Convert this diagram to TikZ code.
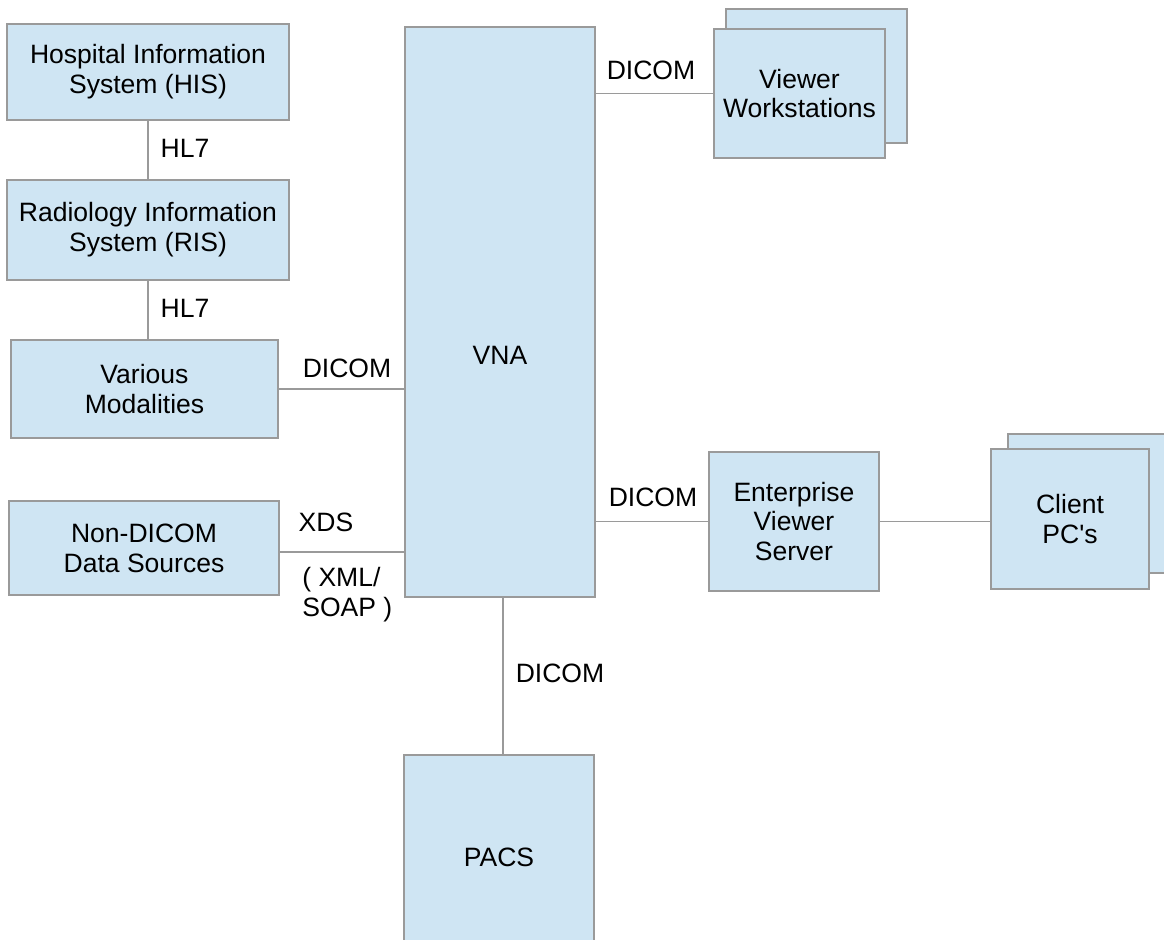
\documentclass[tikz,border=0pt]{standalone}
\usepackage{fontspec}
\setmainfont{Liberation Sans}
\definecolor{bleuclair}{HTML}{CFE5F3}
\definecolor{grisbord}{HTML}{9A9A9A}
\begin{document}
\begin{tikzpicture}
		\tikzstyle{boite}=[draw=grisbord, line width=0.9pt, fill=bleuclair, inner sep=0pt, align=center, font=\fontsize{15.1pt}{17pt}\selectfont]
		\tikzstyle{etiquette}=[inner sep=0pt, font=\fontsize{15.1pt}{17pt}\selectfont]
		\tikzstyle{lien}=[draw=grisbord, line width=0.8pt]
		\useasboundingbox (0,0) rectangle (23.28,-18.80);
		\clip (0,0) rectangle (23.28,-18.80);
		% colonne gauche
		\node[boite, minimum width=5.64cm, minimum height=1.92cm] (his) at (2.96,-1.44) {Hospital Information\\System (HIS)};
		\node[boite, minimum width=5.64cm, minimum height=2.00cm] (ris) at (2.96,-4.60) {Radiology Information\\System (RIS)};
		\node[boite, minimum width=5.34cm, minimum height=1.96cm] (modal) at (2.89,-7.78) {Various\\Modalities};
		\node[boite, minimum width=5.40cm, minimum height=1.88cm] (nondicom) at (2.88,-10.96) {Non-DICOM\\Data Sources};
		% centre
		\node[boite, minimum width=3.80cm, minimum height=11.40cm] (vna) at (10.00,-6.24) {};
		\node[etiquette] (vna_txt) at (10.00,-7.10) {VNA}; % texte plus bas que le centre
		\node[boite, minimum width=3.80cm, minimum height=4.10cm] (pacs) at (9.98,-17.15) {PACS};
		% droite
		\node[boite, minimum width=3.62cm, minimum height=2.68cm] (vw_fond) at (16.33,-1.52) {};
		\node[boite, minimum width=3.42cm, minimum height=2.58cm] (vw) at (15.99,-1.87) {Viewer\\Workstations};
		\node[boite, minimum width=3.40cm, minimum height=2.78cm] (evs) at (15.88,-10.43) {Enterprise\\Viewer\\Server};
		\node[boite, minimum width=3.16cm, minimum height=2.78cm] (pc_fond) at (21.74,-10.07) {};
		\node[boite, minimum width=3.16cm, minimum height=2.80cm] (pc) at (21.40,-10.38) {Client\\PC\textquotesingle s};
		% liens
		\draw[lien] (his.south) -- (ris.north);
		\draw[lien] (ris.south) -- (ris.south |- modal.north);
		\draw[lien] (modal.east) -- (modal.east -| vna.west);
		\draw[lien] ([yshift=-0.08cm]nondicom.east) -- ([yshift=-0.08cm]nondicom.east -| vna.west);
		\draw[lien] (vw.west -| vna.east) -- (vw.west);
		\draw[lien] (evs.west -| vna.east) -- (evs.west);
		\draw[lien] (evs.east) -- (evs.east -| pc.west);
		\draw[lien] ([xshift=0.08cm]pacs.north) -- ([xshift=0.08cm]pacs.north |- vna.south);
		% etiquettes
		\node[etiquette] (hl7a) at (3.70,-2.96) {HL7};
		\node[etiquette] (hl7b) at (3.70,-6.16) {HL7};
		\node[etiquette] (dcm_modal) at (6.94,-7.36) {DICOM};
		\node[etiquette] (xds) at (6.52,-10.44) {XDS};
		\node[etiquette, anchor=west, align=left] (xml) at (6.04,-11.90) {( XML/\\SOAP )};
		\node[etiquette] (dcm_vw) at (13.02,-1.40) {DICOM};
		\node[etiquette] (dcm_evs) at (13.06,-9.94) {DICOM};
		\node[etiquette] (dcm_pacs) at (11.20,-13.46) {DICOM};
	\end{tikzpicture}
\end{document}
